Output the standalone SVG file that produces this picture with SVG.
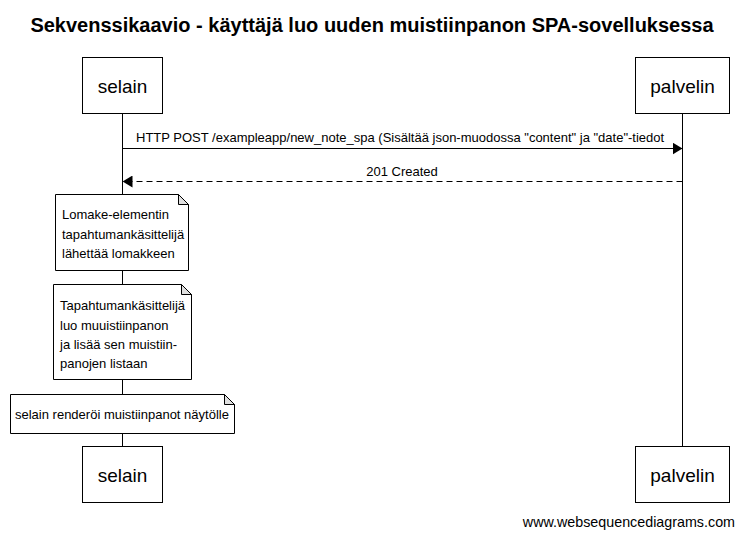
<svg xmlns="http://www.w3.org/2000/svg" width="744" height="538" viewBox="0 0 744 538">
<style>
.box{fill:#fff;stroke:#000;stroke-width:1}
.fold{fill:#e0e0e0;stroke:#000;stroke-width:1}
.life{stroke:#000;stroke-width:1}
.actor{font-family:"Liberation Sans",Arial,sans-serif;font-size:19px;text-anchor:middle}
.msg{font-family:"Liberation Sans",Arial,sans-serif;font-size:13px}
.note{font-family:"Liberation Sans",Arial,sans-serif;font-size:13px}
.title{font-family:"Liberation Sans",Arial,sans-serif;font-size:20px;font-weight:bold;text-anchor:middle}
</style>
<defs>
<marker id="ah" markerWidth="10" markerHeight="12" refX="10" refY="6" orient="auto" markerUnits="userSpaceOnUse">
<path d="M0,0 L10,6 L0,12 z" fill="#000"/>
</marker>
</defs>
<rect width="744" height="538" fill="#fff"/>
<text class="title" x="372" y="32">Sekvenssikaavio - käyttäjä luo uuden muistiinpanon SPA-sovelluksessa</text>
<g id="lifelines">
<line class="life" x1="122.5" y1="113" x2="122.5" y2="446"/>
<line class="life" x1="682.5" y1="113" x2="682.5" y2="446"/>
</g>
<g id="selain-top"><rect class="box" x="82.5" y="57.5" width="80" height="56"/><text class="actor" x="122.5" y="93">selain</text></g>
<g id="palvelin-top"><rect class="box" x="635.5" y="57.5" width="94" height="56"/><text class="actor" x="682.5" y="93">palvelin</text></g>
<g id="selain-bottom"><rect class="box" x="82.5" y="446.5" width="80" height="56"/><text class="actor" x="122.5" y="482">selain</text></g>
<g id="palvelin-bottom"><rect class="box" x="635.5" y="446.5" width="94" height="56"/><text class="actor" x="682.5" y="482">palvelin</text></g>
<g id="connectors">
<line x1="122.5" y1="148.5" x2="682.5" y2="148.5" stroke="#000" marker-end="url(#ah)"/>
<text class="msg" x="136" y="142">HTTP POST /exampleapp/new_note_spa (Sisältää json-muodossa "content" ja "date"-tiedot</text>
<line x1="682.5" y1="181.5" x2="122.5" y2="181.5" stroke="#000" stroke-dasharray="6,4" marker-end="url(#ah)"/>
<text class="msg" x="402" y="176" text-anchor="middle">201 Created</text>
</g>
<g id="note1">
<path class="box" d="M55.5,194.5 H178.5 L188.5,204.5 V270.5 H55.5 Z"/>
<path class="fold" d="M178.5,194.5 V204.5 H188.5 Z"/>
<text class="note" x="62" y="219">Lomake-elementin</text>
<text class="note" x="62" y="239">tapahtumankäsittelijä</text>
<text class="note" x="62" y="258">lähettää lomakkeen</text>
</g>
<g id="note2">
<path class="box" d="M53.5,284.5 H181.5 L191.5,294.5 V379.5 H53.5 Z"/>
<path class="fold" d="M181.5,284.5 V294.5 H191.5 Z"/>
<text class="note" x="60" y="310">Tapahtumankäsittelijä</text>
<text class="note" x="60" y="330">luo muuistiinpanon</text>
<text class="note" x="60" y="349">ja lisää sen muistiin-</text>
<text class="note" x="60" y="368">panojen listaan</text>
</g>
<g id="note3">
<path class="box" d="M10.5,394.5 H224.5 L234.5,404.5 V433.5 H10.5 Z"/>
<path class="fold" d="M224.5,394.5 V404.5 H234.5 Z"/>
<text class="note" x="15" y="419">selain renderöi muistiinpanot näytölle</text>
</g>
<text x="735" y="527" text-anchor="end" font-family="'Liberation Sans',Arial,sans-serif" font-size="14.3px">www.websequencediagrams.com</text>
</svg>
